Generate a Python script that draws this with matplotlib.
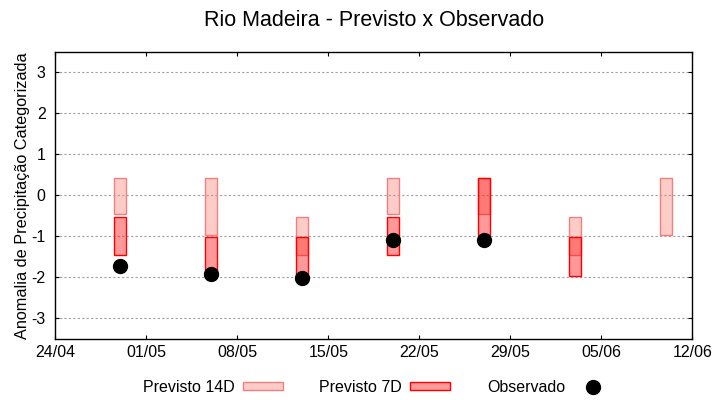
import datetime as dt
import matplotlib
matplotlib.use("Agg")
import matplotlib.pyplot as plt
import matplotlib.dates as mdates
from matplotlib.patches import Patch
from matplotlib.lines import Line2D

# datas das previsoes (semanais)
datas = ["29/04", "06/05", "13/05", "20/05", "27/05", "03/06", "10/06"]

# faixas previstas (limite inferior / superior)
p14_inf = [-0.45, -0.97, -1.45, -0.45, -0.45, -1.45, -0.97]
p14_sup = [0.43, 0.43, -0.53, 0.43, 0.43, -0.53, 0.43]
p7_inf = [-1.45, -1.97, -1.97, -1.45, -0.97, -1.97]
p7_sup = [-0.53, -1.01, -1.01, -0.53, 0.43, -1.01]
observado = [-1.72, -1.91, -2.01, -1.10, -1.10]

xticks = ["24/04", "01/05", "08/05", "15/05", "22/05", "29/05", "05/06", "12/06"]
yticks = [3, 2, 1, 0, -1, -2, -3]


def to_date(s):
    d, m = s.split("/")
    return dt.datetime(2024, int(m), int(d))


plt.rcParams['font.family'] = ['Liberation Sans', 'DejaVu Sans']
plt.rcParams['axes.unicode_minus'] = False

fig = plt.figure(figsize=(7.2, 4.0), dpi=100)
ax = fig.add_axes([55.3 / 720, 1 - 339 / 400, (692.3 - 55.3) / 720, (339 - 51.7) / 400])

x = [to_date(s) for s in datas]
h14 = [s - i for s, i in zip(p14_sup, p14_inf)]
h7 = [s - i for s, i in zip(p7_sup, p7_inf)]

ax.bar(x, h14, bottom=p14_inf, width=0.92, facecolor=(0.98, 0.5, 0.45, 0.4),
       edgecolor='#f08080', linewidth=1.0, zorder=2)
ax.bar(x[:len(h7)], h7, bottom=p7_inf, width=0.92, facecolor=(1, 0, 0, 0.4),
       edgecolor='red', linewidth=1.0, zorder=3)
ax.plot(x[:len(observado)], observado, 'o', color='black', markersize=10, zorder=4)

ax.set_xlim(to_date(xticks[0]), to_date(xticks[-1]))
ax.set_ylim(-3.5, 3.5)
ax.set_xticks([to_date(s) for s in xticks])
ax.xaxis.set_major_formatter(mdates.DateFormatter('%d/%m'))
ax.set_yticks(yticks)
ax.set_yticklabels([str(v) for v in yticks])

ax.tick_params(direction='in', top=True, right=True, length=3, width=0.8,
               labelsize=11.5, colors='black')
ax.tick_params(axis='x', pad=4.5)
ax.tick_params(axis='y', pad=7)
ax.grid(axis='y', color='#a0a0a0', linestyle=(0, (2, 2)), linewidth=0.8, zorder=0)
for sp in ax.spines.values():
    sp.set_linewidth(1.0)

ax.set_ylabel('Anomalia de Precipitação Categorizada', fontsize=11.7, labelpad=1)
fig.text(374 / 720, 1 - 20 / 400, 'Rio Madeira - Previsto x Observado',
         ha='center', va='center', fontsize=15.5)

handles = [
    Patch(facecolor=(0.98, 0.5, 0.45, 0.4), edgecolor='#f08080', linewidth=1.0),
    Patch(facecolor=(1, 0, 0, 0.4), edgecolor='red', linewidth=1.0),
    Line2D([], [], marker='o', linestyle='none', color='black', markersize=10),
]
fig.legend(handles, ['Previsto 14D', 'Previsto 7D', 'Observado'],
           loc='center', bbox_to_anchor=(378 / 720, 1 - 387 / 400), ncol=3,
           frameon=False, markerfirst=False, fontsize=11.5, handlelength=2.5,
           handleheight=0.4, handletextpad=0.5, columnspacing=2.3)

fig.savefig('out.png', dpi=100)
